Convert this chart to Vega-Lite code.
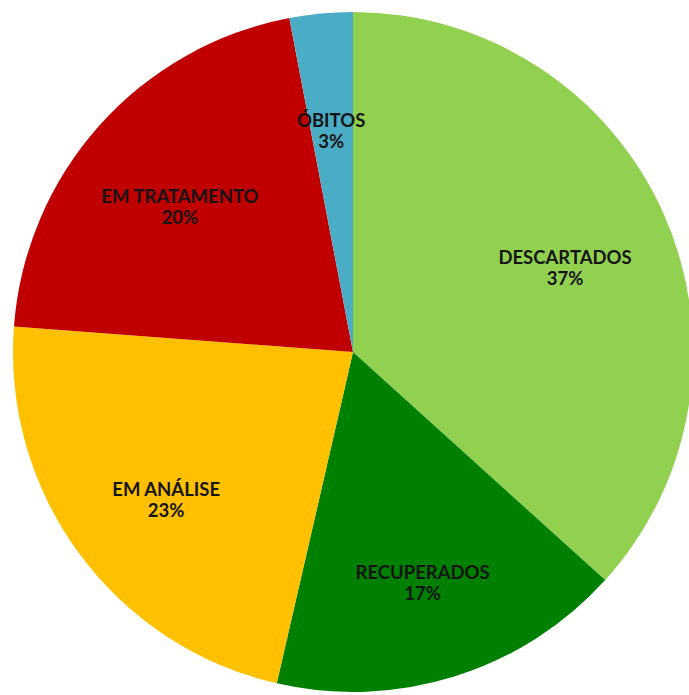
{
  "$schema": "https://vega.github.io/schema/vega-lite/v6.json",
  "autosize": "none",
  "width": 680,
  "height": 680,
  "padding": {"left": 13, "top": 12, "right": 0, "bottom": 0},
  "background": "white",
  "config": {"view": {"stroke": null}, "text": {"lineBreak": "|"}},
  "data": {
    "values": [
      {"category": "DESCARTADOS", "value": 36.7, "pct": "37%", "order": 1},
      {"category": "RECUPERADOS", "value": 16.9, "pct": "17%", "order": 2},
      {"category": "EM ANÁLISE", "value": 22.6, "pct": "23%", "order": 3},
      {"category": "EM TRATAMENTO", "value": 20.8, "pct": "20%", "order": 4},
      {"category": "ÓBITOS", "value": 3.0, "pct": "3%", "order": 5}
    ]
  },
  "transform": [{"calculate": "datum.category + '|' + datum.pct", "as": "label"}],
  "encoding": {
    "theta": {"field": "value", "type": "quantitative", "stack": true},
    "order": {"field": "order", "type": "quantitative", "sort": "ascending"}
  },
  "layer": [
    {
      "mark": {"type": "arc", "outerRadius": 340, "stroke": null},
      "encoding": {
        "color": {
          "field": "category",
          "type": "nominal",
          "scale": {
            "domain": ["DESCARTADOS", "RECUPERADOS", "EM ANÁLISE", "EM TRATAMENTO", "ÓBITOS"],
            "range": ["#92D050", "#008000", "#FFC000", "#C00000", "#4BACC6"]
          },
          "legend": null
        }
      }
    },
    {
      "mark": {"type": "text", "radius": 232, "font": "Lato", "fontWeight": "bold", "fontSize": 18.5, "lineHeight": 21, "color": "#151515", "align": "center", "baseline": "middle"},
      "encoding": {"text": {"field": "label", "type": "nominal"}}
    }
  ]
}
